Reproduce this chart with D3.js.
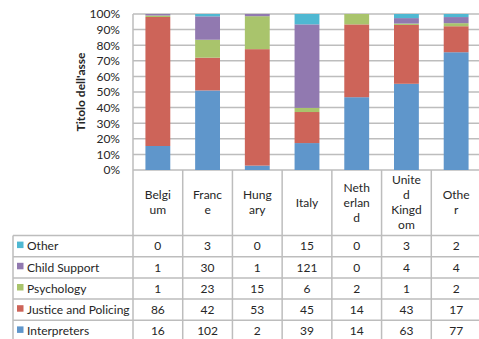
<!DOCTYPE html>
<html><head><meta charset="utf-8">
<script src="https://cdn.jsdelivr.net/npm/d3@7"></script>
<style>
body{margin:0;background:#fff}
svg{display:block}
text{font-family:Lato,"Open Sans",sans-serif;fill:#262626}
</style>
</head><body>
<svg id="chart" width="479" height="339"></svg>
<script>
const categories = ["Belgium","France","Hungary","Italy","Netherland","United Kingdom","Other"];
const categoryLabelLines = [["Belgi","um"],["Franc","e"],["Hung","ary"],["Italy"],["Neth","erlan","d"],["Unite","d","Kingd","om"],["Othe","r"]];
const seriesNames = ["Interpreters","Justice and Policing","Psychology","Child Support","Other"];
const interpreters = [16,102,2,39,14,63,77];
const justicePolicing = [86,42,53,45,14,43,17];
const psychology = [1,23,15,6,2,1,2];
const childSupport = [1,30,1,121,0,4,4];
const otherSeries = [0,3,0,15,0,3,2];
const yTicks = [0,0.1,0.2,0.3,0.4,0.5,0.6,0.7,0.8,0.9,1];
const axisTitle = "Titolo dell'asse";
const colors = ["#5F96CB","#CD6459","#A9C46C","#9179B0","#4FB8D2"];

const seriesValues = [interpreters, justicePolicing, psychology, childSupport, otherSeries];
const svg = d3.select("#chart");
const gridColor = "#BDBDBD";
const fs = 12;

const x = d3.scaleBand().domain(categories).range([133, 481]).padding(0);
const y = d3.scaleLinear().domain([0,1]).range([170, 14]);

// gridlines
svg.append("g").selectAll("line").data(yTicks).join("line")
  .attr("x1", 133).attr("x2", 481)
  .attr("y1", d => y(d)).attr("y2", d => y(d))
  .attr("stroke", gridColor).attr("stroke-width", 1.5);

// stacked data
const table = categories.map((c, i) => {
  const row = {category: c};
  const total = d3.sum(seriesValues, s => s[i]);
  seriesNames.forEach((n, k) => row[n] = seriesValues[k][i] / total);
  return row;
});
const stack = d3.stack().keys(seriesNames)(table);
const barW = x.bandwidth() * 0.5;
svg.append("g").selectAll("g").data(stack).join("g")
  .attr("fill", (d, k) => colors[k])
  .selectAll("rect").data(d => d).join("rect")
  .attr("x", d => x(d.data.category) + (x.bandwidth() - barW) / 2)
  .attr("width", barW)
  .attr("y", d => y(d[1]))
  .attr("height", d => y(d[0]) - y(d[1]));

// y axis labels
const yAxis = svg.append("g").attr("transform", "translate(133,0)")
  .call(d3.axisLeft(y).tickValues(yTicks).tickFormat(d3.format(".0%")).tickSize(0).tickPadding(13));
yAxis.select(".domain").remove();
yAxis.selectAll("text").attr("font-size", fs).attr("fill", "#262626")
  .style("font-family", "Lato,'Open Sans',sans-serif");

// axis title
svg.append("text")
  .attr("transform", "translate(85,92) rotate(-90)")
  .attr("text-anchor", "middle")
  .attr("font-size", fs).attr("font-weight", "bold")
  .text(axisTitle);

// table
const headerBottom = 235.5;
const rowH = 21.2;
const tableLeft = 13;
const tableRight = 481;
const rowOrder = [4,3,2,1,0];
const tg = svg.append("g");

const colEdges = categories.map(c => x(c)).concat([tableRight]);
tg.selectAll("line.v").data(colEdges).join("line").attr("class","v")
  .attr("x1", d => d).attr("x2", d => d)
  .attr("y1", (d, i) => i === 0 ? 14 : 170).attr("y2", 345)
  .attr("stroke", gridColor).attr("stroke-width", 1.5);
tg.append("line").attr("x1", tableLeft).attr("x2", tableLeft)
  .attr("y1", headerBottom).attr("y2", 345)
  .attr("stroke", gridColor).attr("stroke-width", 1.5);
const rowEdges = d3.range(rowOrder.length + 1).map(i => headerBottom + i * rowH);
tg.selectAll("line.h").data(rowEdges).join("line").attr("class","h")
  .attr("x1", tableLeft).attr("x2", tableRight)
  .attr("y1", d => d).attr("y2", d => d)
  .attr("stroke", gridColor).attr("stroke-width", 1.5);

// header labels
const lineH = 15;
categories.forEach((c, i) => {
  const lines = categoryLabelLines[i];
  const cx = x(c) + x.bandwidth() / 2;
  const cy = (170 + headerBottom) / 2;
  const t = tg.append("text").attr("text-anchor", "middle").attr("font-size", fs);
  lines.forEach((l, j) => {
    t.append("tspan").attr("x", cx)
      .attr("y", cy + (j - (lines.length - 1) / 2) * lineH)
      .attr("dy", "0.35em").text(l);
  });
});

// rows
rowOrder.forEach((k, r) => {
  const cy = headerBottom + r * rowH + rowH / 2;
  tg.append("rect").attr("x", 17).attr("y", cy - 4.5).attr("width", 6.5).attr("height", 6.5)
    .attr("fill", colors[k]);
  tg.append("text").attr("x", 27).attr("y", cy).attr("dy", "0.35em")
    .attr("font-size", fs).text(seriesNames[k]);
  categories.forEach((c, i) => {
    tg.append("text").attr("x", x(c) + x.bandwidth() / 2).attr("y", cy).attr("dy", "0.35em")
      .attr("text-anchor", "middle").attr("font-size", fs).text(seriesValues[k][i]);
  });
});
</script>
</body></html>
